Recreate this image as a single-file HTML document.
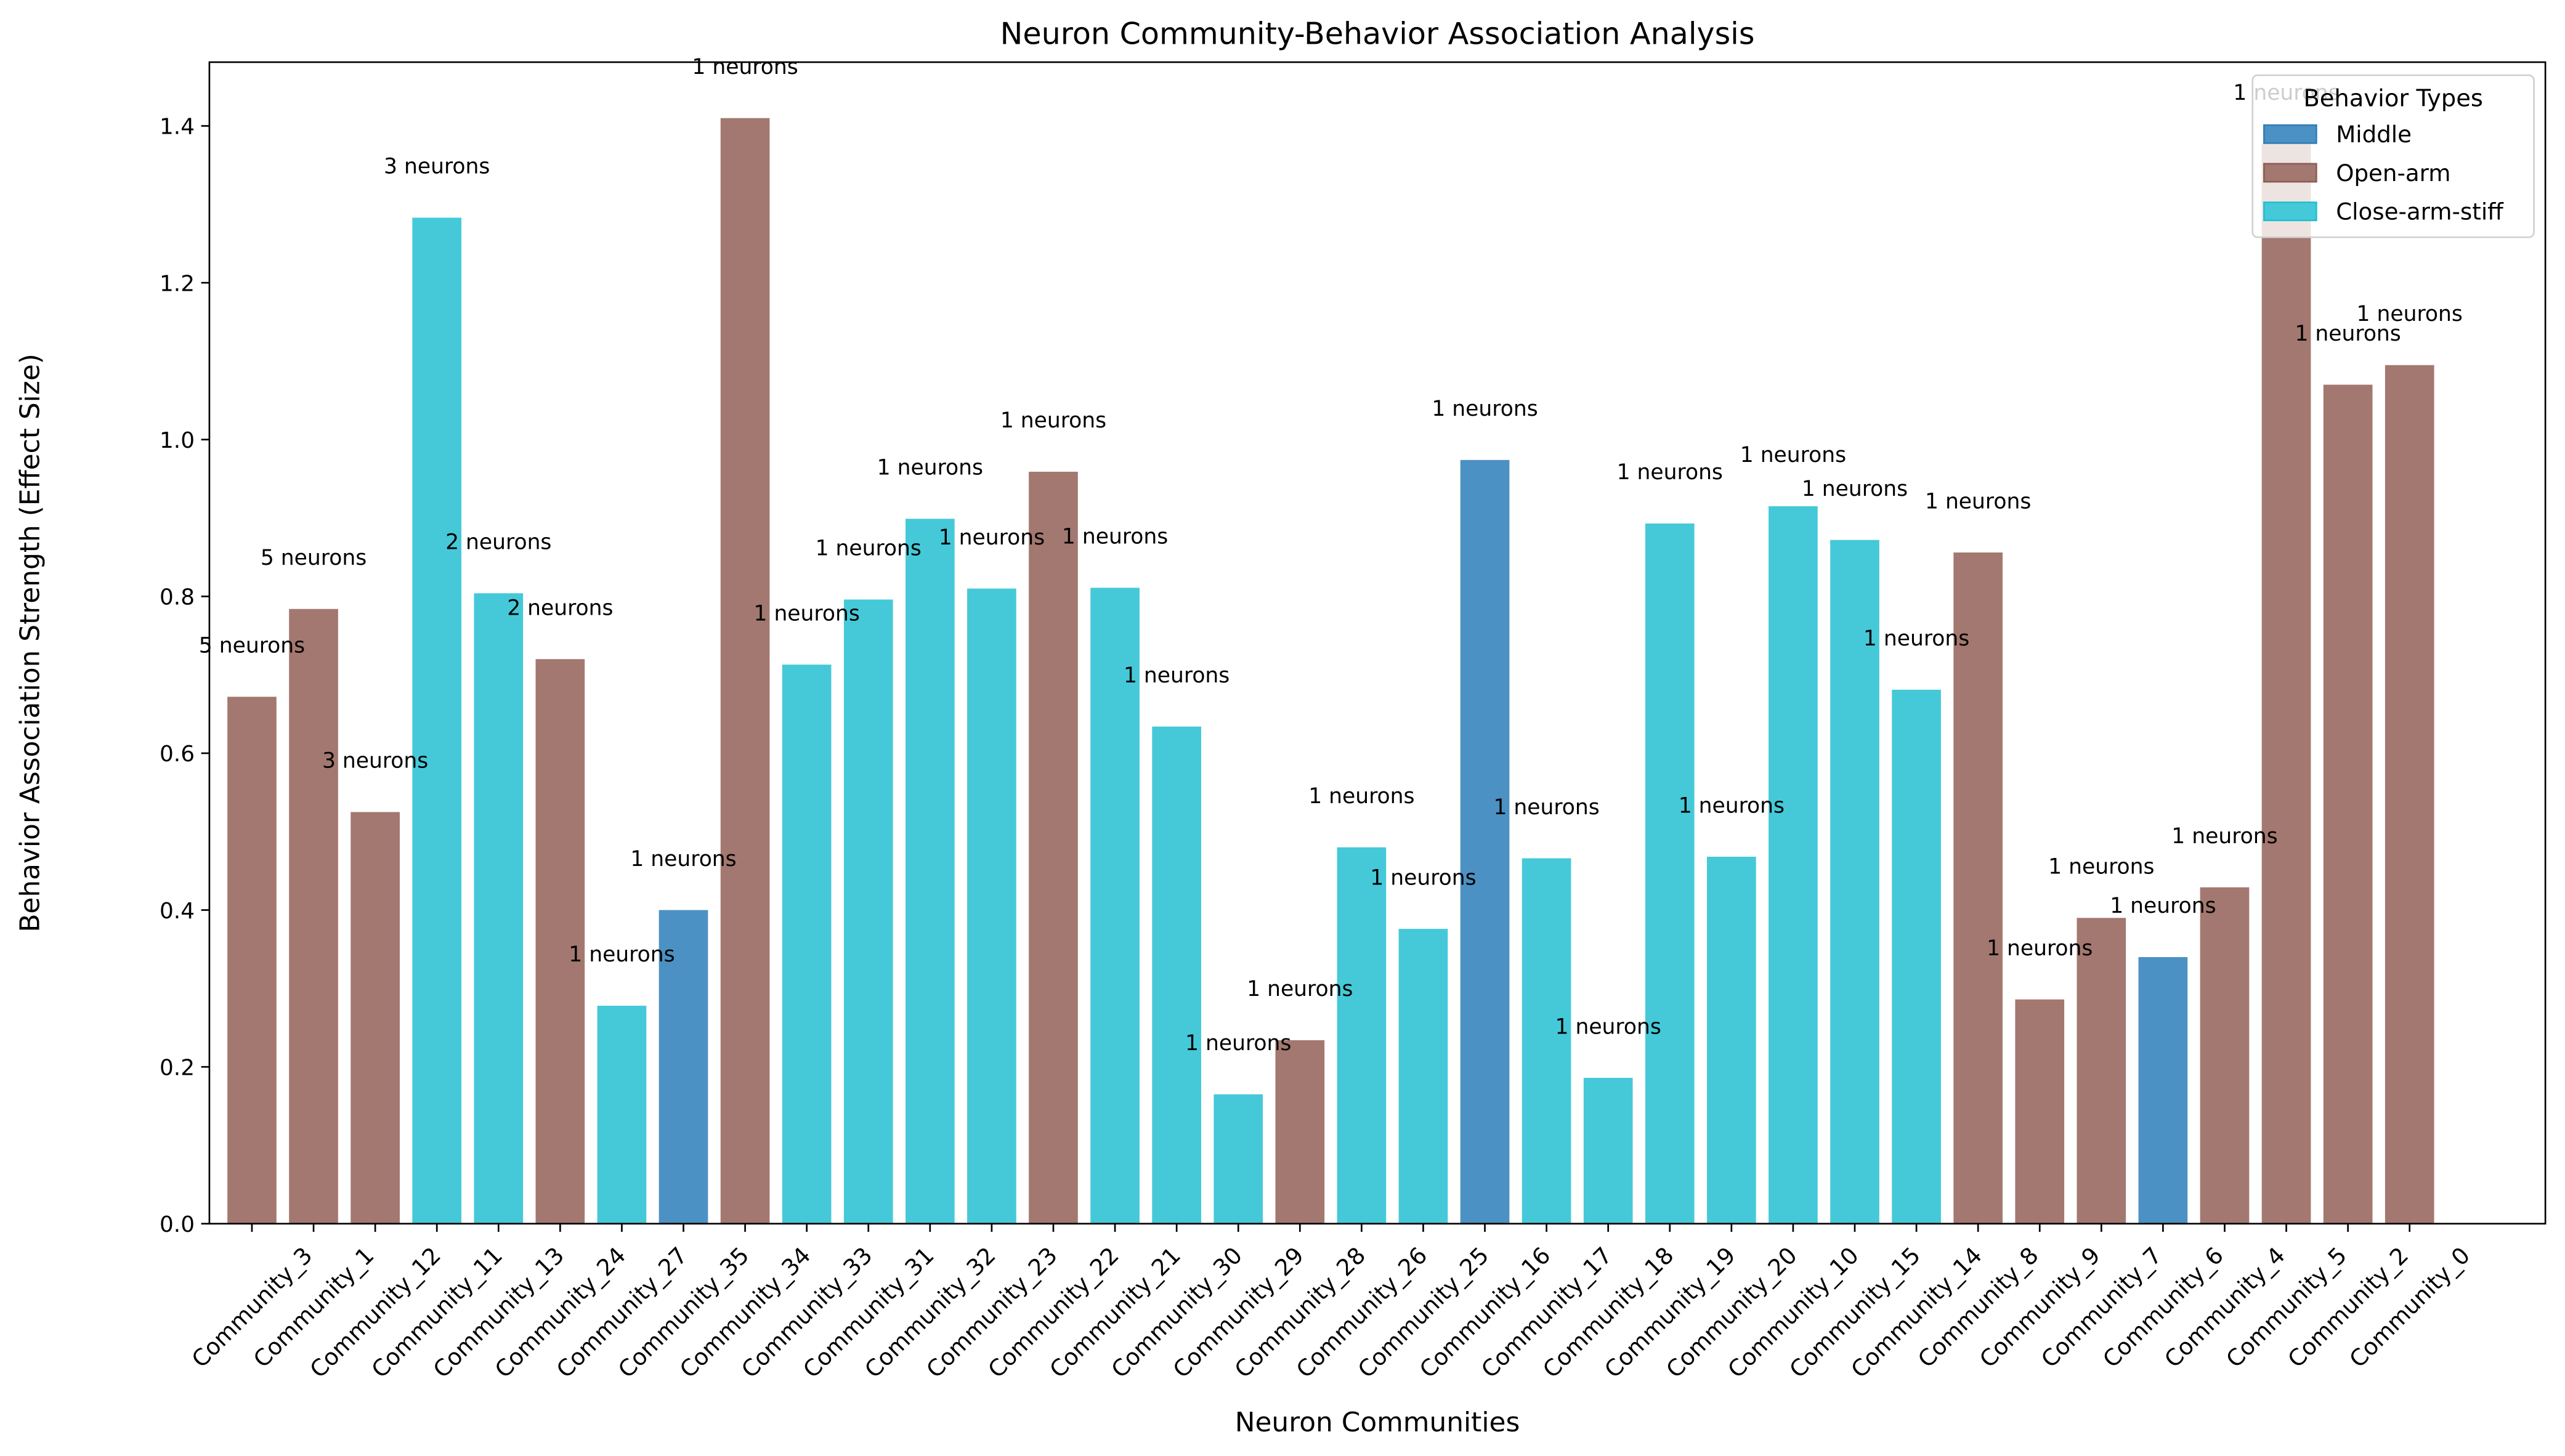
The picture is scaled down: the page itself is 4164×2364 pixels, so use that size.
<!DOCTYPE html>
<html><head><meta charset="utf-8"><style>html,body{margin:0;padding:0;background:#fff}svg{display:block}text{font-family:"DejaVu Sans","Liberation Sans",sans-serif}</style></head>
<body>
<svg id="chart" width="4164" height="2364" viewBox="0 0 1568 890" preserveAspectRatio="none" xmlns="http://www.w3.org/2000/svg">
<rect width="1568" height="890" fill="#fff"/>
<g id="bars"></g><g id="labels"></g><g id="axes"></g>
</svg>
<script>
const categories=["Community_3","Community_1","Community_12","Community_11","Community_13","Community_24","Community_27","Community_35","Community_34","Community_33","Community_31","Community_32","Community_23","Community_22","Community_21","Community_30","Community_29","Community_28","Community_26","Community_25","Community_16","Community_17","Community_18","Community_19","Community_20","Community_10","Community_15","Community_14","Community_8","Community_9","Community_7","Community_6","Community_4","Community_5","Community_2","Community_0"];
const values=[0.672,0.784,0.525,1.283,0.804,0.720,0.278,0.400,1.410,0.713,0.796,0.899,0.810,0.959,0.811,0.634,0.165,0.234,0.480,0.376,0.974,0.466,0.186,0.893,0.468,0.915,0.872,0.681,0.856,0.286,0.390,0.340,0.429,1.377,1.070,1.095];
const behaviors=["O","O","O","C","C","O","C","M","O","C","C","C","C","O","C","C","C","O","C","C","M","C","C","C","C","C","C","C","O","O","O","M","O","O","O","O"];
const neurons=[5,5,3,3,2,2,1,1,1,1,1,1,1,1,1,1,1,1,1,1,1,1,1,1,1,1,1,1,1,1,1,1,1,1,1,1];
const yTicks=[0,0.2,0.4,0.6,0.8,1.0,1.2,1.4];
const colors={M:"#4c91c3",O:"#a37870",C:"#45c9d8"};
const edges={M:"#2f7fb8",O:"#8f5d53",C:"#22bfd0"};
const NS="http://www.w3.org/2000/svg";
const L=128,R=1556,T=38,B=748;
const y=v=>B-v*479.3;
const x=i=>154+i*(1473-154)/(categories.length-1);
const bw=30;
function mk(tag,attrs,parent,txt){const e=document.createElementNS(NS,tag);for(const k in attrs)e.setAttribute(k,attrs[k]);if(txt!==undefined)e.textContent=txt;parent.appendChild(e);return e;}
const gb=document.getElementById('bars'),gl=document.getElementById('labels'),ga=document.getElementById('axes');
const FS=14;
categories.forEach((c,i)=>{
 const r=mk('rect',{x:x(i)-bw/2,y:y(values[i]),width:bw,height:B-y(values[i]),fill:colors[behaviors[i]]},gb);
 
 
 const t=mk('text',{x:x(i),y:y(values[i])-27,'text-anchor':'middle','font-size':'13'},gl,neurons[i]+' neurons');
 
 
 mk('line',{x1:x(i),x2:x(i),y1:B,y2:B+5,stroke:'#000','stroke-width':1},ga);
 const xl=mk('text',{x:0,y:0,'text-anchor':'middle','dominant-baseline':'central','font-size':FS},ga,c);
 
 
 const len=xl.getComputedTextLength();
 const h=(len+1.17*FS)*0.7071;
 xl.setAttribute('transform',`translate(${x(i)},${759+h/2}) rotate(-45)`);
});
yTicks.forEach(v=>{
 mk('line',{x1:L-5,x2:L,y1:y(v),y2:y(v),stroke:'#000','stroke-width':1},ga);
 const t=mk('text',{x:L-9,y:y(v)+5,'text-anchor':'end','font-size':'13.5'},ga,v.toFixed(1));
 
 
});
const fr=mk('rect',{x:L,y:T,width:R-L,height:B-T,fill:'none',stroke:'#000','stroke-width':1},ga);


const ti=mk('text',{x:(L+R)/2,y:27,'text-anchor':'middle','font-size':'18.5'},ga,'Neuron Community-Behavior Association Analysis');


const xt=mk('text',{x:(L+R)/2,y:875,'text-anchor':'middle','font-size':'16.5'},ga,'Neuron Communities');


const yt=mk('text',{x:0,y:0,'text-anchor':'middle','font-size':'16.5',transform:`translate(24,${(T+B)/2}) rotate(-90)`},ga,'Behavior Association Strength (Effect Size)');


const lg=mk('g',{},ga);


mk('rect',{x:1377,y:46,width:172,height:99,rx:3,fill:'#fff','fill-opacity':0.8,stroke:'#d0d0d0'},lg);
mk('text',{x:1463,y:65,'text-anchor':'middle','font-size':'14.5'},lg,'Behavior Types');
[["M","Middle"],["O","Open-arm"],["C","Close-arm-stiff"]].forEach((e,k)=>{
 const g=mk('g',{},lg);
 
 
 mk('rect',{x:1384,y:76.5+k*23.6,width:32,height:11,fill:colors[e[0]],stroke:edges[e[0]],'stroke-width':1},g);
 mk('text',{x:1428,y:87+k*23.6,'font-size':'14'},g,e[1]);
});
</script>
</body></html>
